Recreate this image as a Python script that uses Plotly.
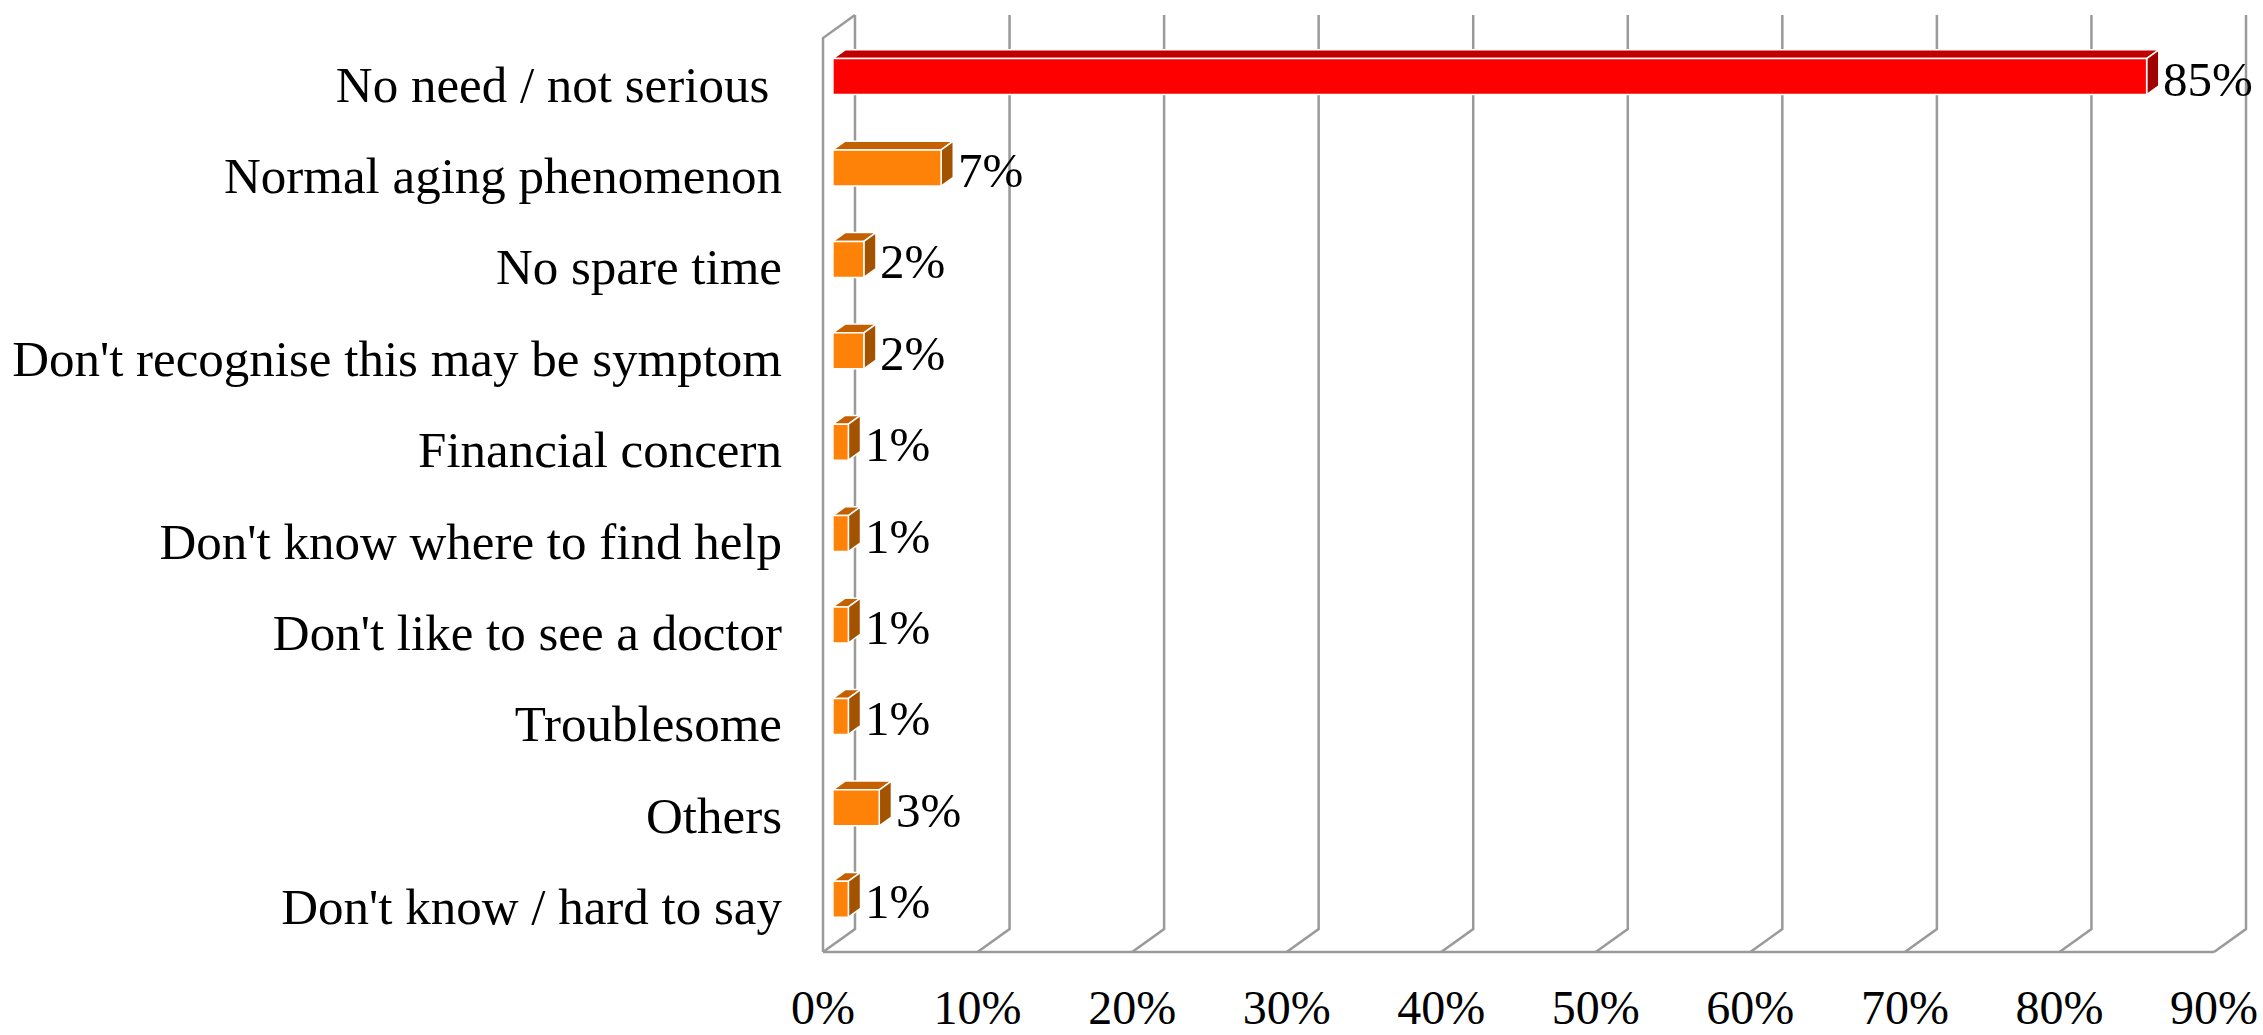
import plotly.graph_objects as go

# ---- data ----
categories = [
    "No need / not serious\u00a0",
    "Normal aging phenomenon",
    "No spare time",
    "Don't recognise this may be symptom",
    "Financial concern",
    "Don't know where to find help",
    "Don't like to see a doctor",
    "Troublesome",
    "Others",
    "Don't know / hard to say",
]
values = [85, 7, 2, 2, 1, 1, 1, 1, 3, 1]
x_ticks = [0, 10, 20, 30, 40, 50, 60, 70, 80, 90]
x_tick_labels = [f"{t}%" for t in x_ticks]

# ---- 3D projection settings (in axis units) ----
DEPTH_X = 2.07      # horizontal shift of back wall (percent units)
DEPTH_Y = -0.252    # vertical shift of back wall (category units)
F1, F2 = 0.31, 0.69 # bar depth position (fraction of wall depth)
HALF = 0.197        # half height of bar front face

RED = dict(front="#FF0000", top="#C00000", side="#A00000")
ORANGE = dict(front="#FF8208", top="#C46000", side="#A35200")
GRID = "#9A9A9A"
FONT = "Liberation Serif"

n = len(categories)
y_top, y_bot = -0.5, n - 0.5

fig = go.Figure()

# gridlines / walls
gx, gy = [], []
for t in x_ticks:
    gx += [t + DEPTH_X, t + DEPTH_X, t, None]
    gy += [y_top + DEPTH_Y, y_bot + DEPTH_Y, y_bot, None]
# left wall front edge + top slant
gx += [0 + DEPTH_X, 0, 0, None]
gy += [y_top + DEPTH_Y, y_top, y_bot, None]
# floor front edge
gx += [0, x_ticks[-1], None]
gy += [y_bot, y_bot, None]
fig.add_trace(go.Scatter(x=gx, y=gy, mode="lines", line=dict(color=GRID, width=2.5),
                         hoverinfo="skip", showlegend=False))

# bars
max_i = values.index(max(values))
for i, v in enumerate(values):
    col = RED if i == max_i else ORANGE
    x1f, x1b = F1 * DEPTH_X, F2 * DEPTH_X
    dyf, dyb = F1 * DEPTH_Y, F2 * DEPTH_Y
    top_y = i - HALF
    bot_y = i + HALF
    # top face
    fig.add_trace(go.Scatter(
        x=[x1f, v + x1f, v + x1b, x1b, x1f],
        y=[top_y + dyf, top_y + dyf, top_y + dyb, top_y + dyb, top_y + dyf],
        fill="toself", fillcolor=col["top"], mode="lines",
        line=dict(color="white", width=1.5), hoverinfo="skip", showlegend=False))
    # side face
    fig.add_trace(go.Scatter(
        x=[v + x1f, v + x1b, v + x1b, v + x1f, v + x1f],
        y=[top_y + dyf, top_y + dyb, bot_y + dyb, bot_y + dyf, top_y + dyf],
        fill="toself", fillcolor=col["side"], mode="lines",
        line=dict(color="white", width=1.5), hoverinfo="skip", showlegend=False))
    # front face
    fig.add_trace(go.Scatter(
        x=[x1f, v + x1f, v + x1f, x1f, x1f],
        y=[top_y + dyf, top_y + dyf, bot_y + dyf, bot_y + dyf, top_y + dyf],
        fill="toself", fillcolor=col["front"], mode="lines",
        line=dict(color="white", width=1.5), hoverinfo="skip", showlegend=False))
    # data label
    fig.add_annotation(x=v + x1b + 0.15, y=i - 0.05, text=f"{v}%", showarrow=False,
                       xanchor="left", yanchor="middle",
                       font=dict(family=FONT, size=49, color="black"))

fig.update_layout(
    width=2263, height=1035,
    margin=dict(l=800, r=0, t=0, b=70, autoexpand=False),
    paper_bgcolor="white", plot_bgcolor="white",
    font=dict(family=FONT, color="black"),
    xaxis=dict(range=[-1.488, 93.17], tickvals=x_ticks, ticktext=x_tick_labels,
               showgrid=False, zeroline=False, showline=False, ticks="", automargin=False,
               tickfont=dict(size=48, family=FONT), ticklabelstandoff=10),
    yaxis=dict(range=[9.642, -0.916], tickvals=list(range(n)), ticktext=categories,
               showgrid=False, zeroline=False, showline=False, ticks="", automargin=False,
               tickfont=dict(size=51, family=FONT), ticklabelstandoff=17),
)

fig.write_html("out.html", config={"displayModeBar": False},
               post_script="document.body.style.margin='0px';")
